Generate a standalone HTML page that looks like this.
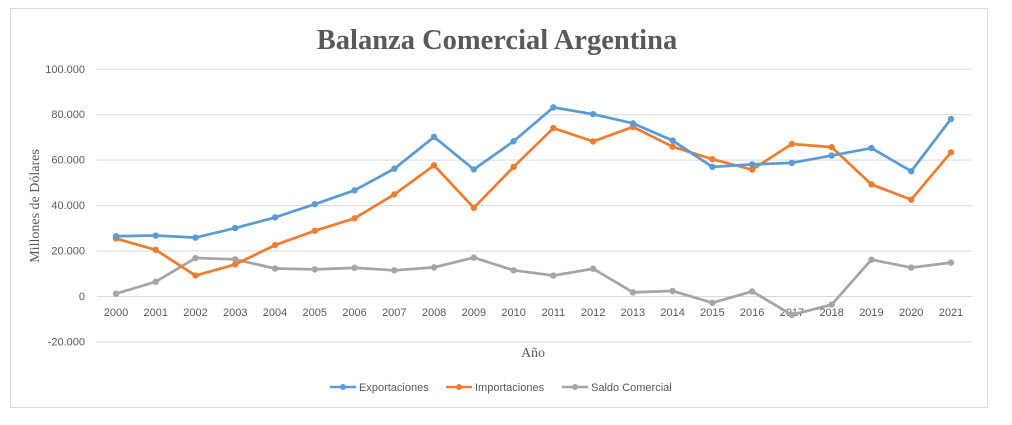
<!DOCTYPE html>
<html><head><meta charset="utf-8"><style>
body{margin:0;background:#fff;}
svg{display:block;font-family:"Liberation Sans",sans-serif;}
</style></head><body>
<svg id="s" width="1012" height="425" xmlns="http://www.w3.org/2000/svg">
<rect x="0" y="0" width="1012" height="425" fill="#fff"/>
<rect x="10.5" y="8.5" width="977" height="399" fill="#fff" stroke="#d9d9d9"/>
<text x="497" y="49" text-anchor="middle" font-family="Liberation Serif,serif" font-weight="bold" font-size="28.5" fill="#595959">Balanza Comercial Argentina</text>
<g id="grid" stroke="#d9d9d9" stroke-width="1"></g>
<g id="yl" font-size="11" fill="#595959" text-anchor="end"></g>
<g id="xl" font-size="11" fill="#595959" text-anchor="middle"></g>
<text transform="translate(39,206) rotate(-90)" text-anchor="middle" font-family="Liberation Serif,serif" font-size="14" fill="#595959">Millones de Dólares</text>
<text x="533" y="357" text-anchor="middle" font-family="Liberation Serif,serif" font-size="14" fill="#595959">Año</text>
<g id="series"></g>
<g font-size="11" fill="#595959">
<line x1="330" y1="387" x2="356" y2="387" stroke="#5b9bd5" stroke-width="2.5"/><circle cx="343" cy="387" r="3" fill="#5b9bd5"/>
<text x="359" y="391">Exportaciones</text>
<line x1="446" y1="387" x2="472" y2="387" stroke="#ed7d31" stroke-width="2.5"/><circle cx="459" cy="387" r="3" fill="#ed7d31"/>
<text x="475" y="391">Importaciones</text>
<line x1="562" y1="387" x2="588" y2="387" stroke="#a5a5a5" stroke-width="2.5"/><circle cx="575" cy="387" r="3" fill="#a5a5a5"/>
<text x="591" y="391">Saldo Comercial</text>
</g>
</svg>
<script>
var NS="http://www.w3.org/2000/svg";
function el(t,a,p,txt){var e=document.createElementNS(NS,t);for(var k in a)e.setAttribute(k,a[k]);if(txt!=null)e.textContent=txt;document.getElementById(p).appendChild(e);return e;}
function Y(v){return 296-v*2.2725;}
function X(i){return 116+i*39.76;}
var labs=["100.000","80.000","60.000","40.000","20.000","0","-20.000"];
for(var i=0;i<7;i++){var v=100-20*i,y=Y(v);el("line",{x1:97,x2:972,y1:y+0.5,y2:y+0.5},"grid");el("text",{x:85,y:y+4},"yl",labs[i]);}
for(var i=0;i<22;i++)el("text",{x:X(i),y:316},"xl",String(2000+i));
var E=[26.3,26.6,25.7,29.9,34.6,40.4,46.5,56.0,70.0,55.7,68.1,83.0,80.0,76.0,68.4,56.8,57.9,58.6,61.8,65.1,54.9,77.9];
var I=[25.3,20.3,9.0,13.9,22.4,28.7,34.2,44.7,57.5,38.8,56.8,73.9,68.0,74.4,65.7,60.2,55.6,66.9,65.5,49.1,42.4,63.2];
var S=[1.0,6.3,16.7,16.1,12.1,11.7,12.4,11.3,12.6,16.9,11.3,9.0,12.0,1.6,2.2,-3.0,2.0,-8.3,-3.8,16.0,12.5,14.7];
[[S,"#a5a5a5"],[I,"#ed7d31"],[E,"#5b9bd5"]].forEach(function(s){
var p=s[0].map(function(v,i){return X(i)+","+Y(v);}).join(" ");
el("polyline",{points:p,fill:"none",stroke:s[1],"stroke-width":2.75,"stroke-linejoin":"round"},"series");
s[0].forEach(function(v,i){el("circle",{cx:X(i),cy:Y(v),r:3.2,fill:s[1]},"series");});
});
</script>
</body></html>
